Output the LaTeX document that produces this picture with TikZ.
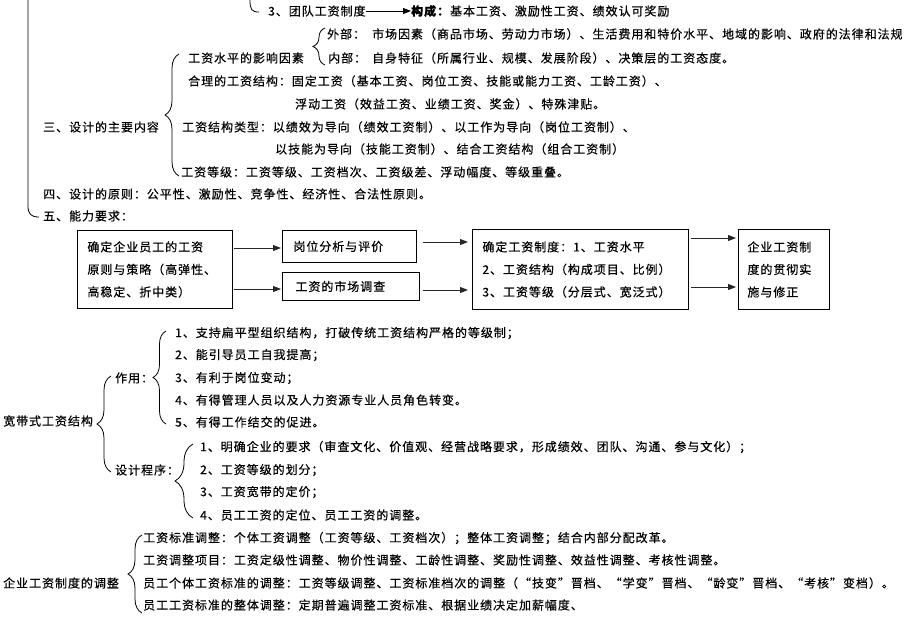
\documentclass[tikz,border=0pt]{standalone}
\usepackage{fontspec}
\setmainfont{Noto Sans CJK SC}[LetterSpace=8,FakeBold=0.4]
\usetikzlibrary{arrows.meta,decorations.pathreplacing}
\begin{document}
\begin{tikzpicture}[x=1pt,y=-1pt,
  t/.style={anchor=west,inner sep=0pt,font=\fontsize{12}{14}\selectfont},
  box/.style={draw,line width=0.9pt,anchor=north west,inner ysep=0pt,align=left,font=\fontsize{12}{22.5}\selectfont},
  arr/.style={line width=0.9pt,draw=black!85,-{Triangle[length=8pt,width=6pt]}},
  brc/.style={decorate,decoration={brace,amplitude=#1},line width=0.8pt},
  brc/.default=12pt,
  ln/.style={line width=0.8pt}]
\useasboundingbox (0,0) rectangle (916,619);

% top fragment
\coordinate (t0) at (250,0);
\coordinate (t1) at (259,12);
\draw[ln] (t0) .. controls (250,10) and (252,12) .. (t1);
\coordinate (m0) at (28,0);
\coordinate (m1) at (28,206);
\coordinate (m2) at (39,217);
\draw[ln] (m0) -- (m1) .. controls (28,214) and (31,217) .. (m2);

\node[t] (g3) at (268,11) {3、团队工资制度};
\node[t] (gc) at (411,11) {\textbf{构成：}基本工资、激励性工资、绩效认可奖励};
\draw[line width=0.8pt,-{Triangle[length=8pt,width=6pt]}] (g3.east) -- (gc.west);

\node[t] (wb) at (327,34) {外部：};
\node[t] (wbt) at (372,34) {市场因素（商品市场、劳动力市场）、生活费用和特价水平、地域的影响、政府的法律和法规};
\node[t] (yx) at (188,58) {工资水平的影响因素};
\node[t] (nb) at (328,58) {内部：};
\node[t] (nbt) at (372,58) {自身特征（所属行业、规模、发展阶段）、决策层的工资态度。};
\draw[brc=12pt] (325,65) -- (325,28);

\node[t] (hl) at (188,81) {合理的工资结构：固定工资（基本工资、岗位工资、技能或能力工资、工龄工资）、};
\node[t] (fd) at (295,104) {浮动工资（效益工资、业绩工资、奖金）、特殊津贴。};
\node[t] (s3) at (43,127) {三、设计的主要内容};
\node[t] (lx) at (182,127) {工资结构类型：以绩效为导向（绩效工资制）、以工作为导向（岗位工资制）、};
\node[t] (jn) at (275,149) {以技能为导向（技能工资制）、结合工资结构（组合工资制）};
\node[t] (dj) at (181,172) {工资等级：工资等级、工资档次、工资级差、浮动幅度、等级重叠。};
\draw[brc=14pt] (179,176) -- (179,54);
\node[t] (s4) at (43,194) {四、设计的原则：公平性、激励性、竞争性、经济性、合法性原则。};
\node[t] (s5) at (43,216) {五、能力要求：};

% flow
\node[box,minimum width=155pt,minimum height=78pt,inner xsep=10pt,text width=135pt] (A) at (77,230)
  {确定企业员工的工资\\原则与策略（高弹性、\\高稳定、折中类）};
\node[box,minimum width=134pt,minimum height=32pt,inner xsep=11pt,text width=112pt] (B) at (282,230)
  {岗位分析与评价};
\node[box,minimum width=137pt,minimum height=28pt,inner xsep=13pt,text width=111pt] (C) at (282,272)
  {工资的市场调查};
\node[box,minimum width=216pt,minimum height=80pt,inner xsep=10pt,text width=196pt] (D) at (472,229)
  {确定工资制度：1、工资水平\\2、工资结构（构成项目、比例）\\3、工资等级（分层式、宽泛式）};
\node[box,minimum width=91pt,minimum height=80pt,inner xsep=9pt,text width=73pt] (E) at (738,229)
  {企业工资制\\度的贯彻实\\施与修正};

\draw[arr,shorten <=1pt,shorten >=1pt] (A.east |- 0,248) -- (B.west |- 0,248);
\draw[arr,shorten <=1pt,shorten >=1pt] (A.east |- 0,289) -- (C.west |- 0,289);
\draw[arr,shorten <=6pt,shorten >=4pt] (B.east |- 0,242) -- (D.west |- 0,242);
\draw[arr,shorten <=3pt,shorten >=4pt] (C.east |- 0,290) -- (D.west |- 0,290);
\draw[arr,shorten <=2pt,shorten >=2pt] (D.east |- 0,238) -- (E.west |- 0,238);
\draw[arr,shorten <=2pt,shorten >=2pt] (D.east |- 0,287) -- (E.west |- 0,287);

% broadband
\node[t] (kd) at (3,421) {宽带式工资结构};
\draw[brc=14pt] (111,472) -- (111,376);
\node[t] (zy) at (115,378) {作用：};
\draw[brc=13pt] (166,424) -- (166,331);
\node[t] (z1) at (175,333) {1、支持扁平型组织结构，打破传统工资结构严格的等级制；};
\node[t] (z2) at (175,355) {2、能引导员工自我提高；};
\node[t] (z3) at (175,378) {3、有利于岗位变动；};
\node[t] (z4) at (175,400) {4、有得管理人员以及人力资源专业人员角色转变。};
\node[t] (z5) at (175,422) {5、有得工作结交的促进。};
\node[t] (sj) at (115,470) {设计程序：};
\draw[brc=18pt] (193,518) -- (193,444);
\node[t] (p1) at (200,447) {1、明确企业的要求（审查文化、价值观、经营战略要求，形成绩效、团队、沟通、参与文化）；};
\node[t] (p2) at (200,470) {2、工资等级的划分；};
\node[t] (p3) at (200,492) {3、工资宽带的定价；};
\node[t] (p4) at (200,515) {4、员工工资的定位、员工工资的调整。};

% adjustment
\node[t] (tz) at (3,583) {企业工资制度的调整};
\draw[brc=14pt] (142,613) -- (142,535);
\node[t] (a1) at (143,538) {工资标准调整：个体工资调整（工资等级、工资档次）；整体工资调整；结合内部分配改革。};
\node[t] (a2) at (143,560) {工资调整项目：工资定级性调整、物价性调整、工龄性调整、奖励性调整、效益性调整、考核性调整。};
\node[t] (a3) at (143,583) {员工个体工资标准的调整：工资等级调整、工资标准档次的调整（“技变”晋档、“学变”晋档、“龄变”晋档、“考核”变档）。};
\node[t] (a4) at (143,605) {员工工资标准的整体调整：定期普遍调整工资标准、根据业绩决定加薪幅度、};
\end{tikzpicture}
\end{document}
